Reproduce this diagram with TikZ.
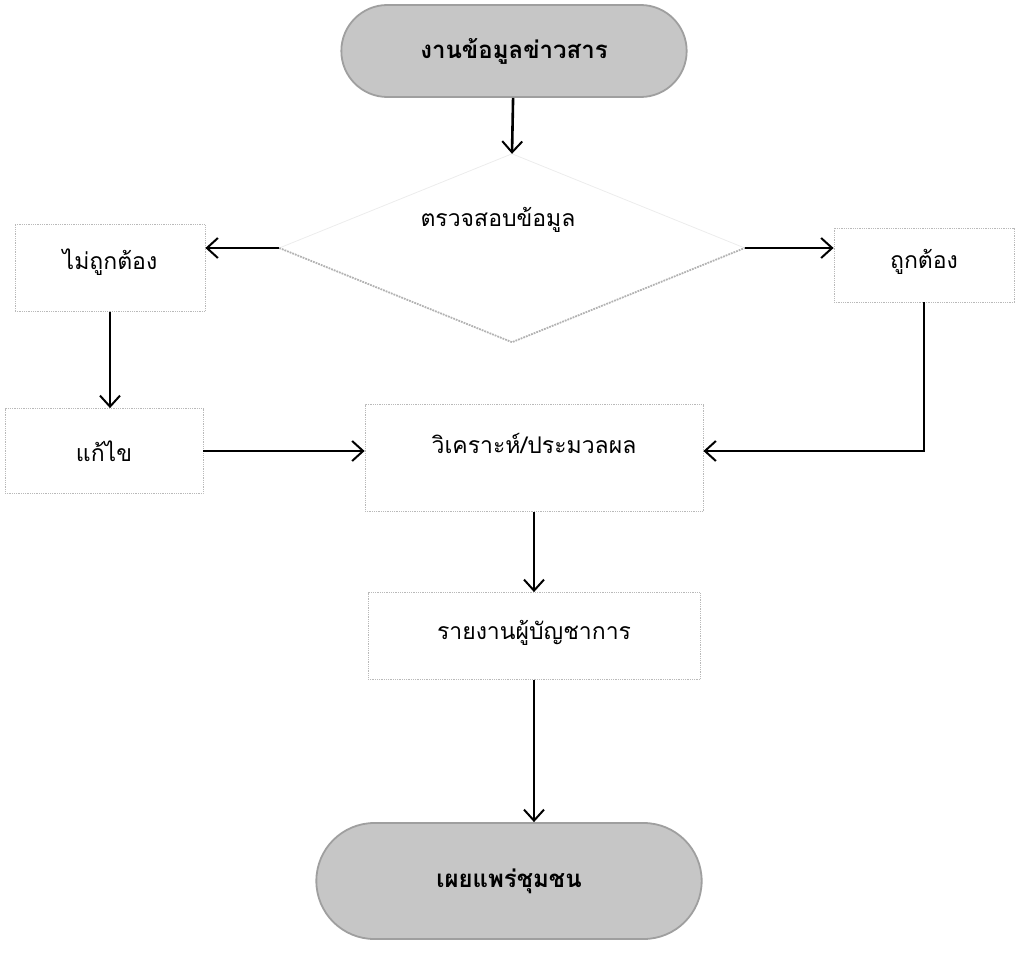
\documentclass[tikz,border=0pt]{standalone}
\usepackage{fontspec}
\newfontfamily\thaifont[Script=Thai]{Loma}
\usetikzlibrary{shapes.geometric, shapes.misc, arrows.meta}

\tikzset{
	box/.style = {draw=gray!55, densely dotted, line width=0.8pt, font=\thaifont\fontsize{23}{27}\selectfont},
	term/.style = {rounded rectangle, fill=gray!45, draw=gray!75, line width=1.8pt, font=\thaifont\bfseries\fontsize{24}{28}\selectfont},
	flow/.style = {line width=2.6pt, -{Straight Barb[length=11pt, width=20pt, line width=2pt]}}
}

\begin{document}
\begin{tikzpicture}[x = 1pt, y = -1pt]
		\useasboundingbox (0,0) rectangle (1016,952);
		\node [term, minimum width=352pt, minimum height=92pt] (start) at (514,51) {งานข้อมูลข่าวสาร};
		\node [diamond, minimum width=465pt, minimum height=188pt, inner sep=0pt] (check) at (512,248) {};
		\node [font=\thaifont\fontsize{23}{27}\selectfont] (checktext) at (498,220) {ตรวจสอบข้อมูล};
		\node [box, minimum width=190pt, minimum height=87pt] (wrong) at (110,268) {\raisebox{18pt}{ไม่ถูกต้อง}};
		\node [box, minimum width=180pt, minimum height=74pt] (right) at (924,265) {\raisebox{12pt}{ถูกต้อง}};
		\node [box, minimum width=198pt, minimum height=85pt] (fix) at (104,451) {แก้ไข};
		\node [box, minimum width=338pt, minimum height=107pt] (proc) at (534,458) {\raisebox{30pt}{วิเคราะห์/ประมวลผล}};
		\node [box, minimum width=332pt, minimum height=87pt] (report) at (534,636) {\raisebox{12pt}{รายงานผู้บัญชาการ}};
		\node [term, minimum width=392pt, minimum height=116pt] (finish) at (509,881) {เผยแพร่ชุมชน};
		% diamond outline
		\draw [gray!15, line width=0.8pt] (check.west) -- (check.north) -- (check.east);
		\draw [gray!60, line width=1.8pt, densely dotted] (check.west) -- (check.south) -- (check.east);
		% connectors
		\draw [flow] (start) -- (check.north);
		\draw [flow] (check.west) -- (wrong.east |- check.west);
		\draw [flow] (check.east) -- (right.west |- check.east);
		\draw [flow] (wrong.south) -- (fix.north -| wrong.south);
		\draw [flow] (fix.east) -- (proc.west |- fix.east);
		\draw [flow] (right.south) |- (proc.east |- fix.east);
		\draw [flow] (proc.south) -- (report.north);
		\draw [flow] (report.south) -- (report.south |- finish.north);
	\end{tikzpicture}
\end{document}
